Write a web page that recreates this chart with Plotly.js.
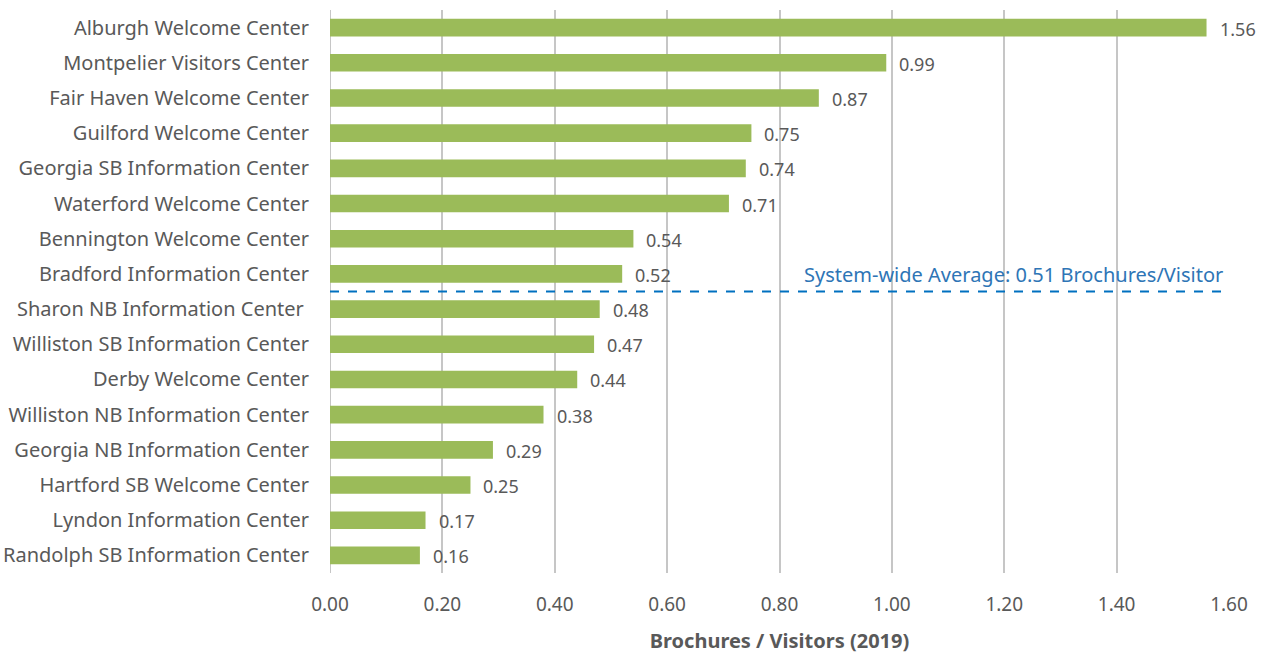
<!DOCTYPE html>
<html>
<head>
<meta charset="utf-8">
<script src="https://cdn.plot.ly/plotly-3.0.1.min.js"></script>
<style>
  html, body { margin: 0; padding: 0; background: #ffffff; }
  #chart { width: 1272px; height: 654px; }
</style>
</head>
<body>
<div id="chart"></div>
<script>
// Brochures distributed per visitor at each Vermont welcome / information center, 2019
const centers = [
  "Alburgh Welcome Center",
  "Montpelier Visitors Center",
  "Fair Haven Welcome Center",
  "Guilford Welcome Center",
  "Georgia SB Information Center",
  "Waterford Welcome Center",
  "Bennington Welcome Center",
  "Bradford Information Center",
  "Sharon NB Information Center\u00a0",
  "Williston SB Information Center",
  "Derby Welcome Center",
  "Williston NB Information Center",
  "Georgia NB Information Center",
  "Hartford SB Welcome Center",
  "Lyndon Information Center",
  "Randolph SB Information Center"
];
const ratios = [1.56, 0.99, 0.87, 0.75, 0.74, 0.71, 0.54, 0.52, 0.48, 0.47, 0.44, 0.38, 0.29, 0.25, 0.17, 0.16];
const systemAverage = 0.51;
const averageLabel = "System-wide Average: 0.51 Brochures/Visitor";
const xTicks = [0, 0.2, 0.4, 0.6, 0.8, 1.0, 1.2, 1.4, 1.6];

const FONT = "'Noto Sans', 'Open Sans', sans-serif";
const GREY_TEXT = "#595959";

// The average line sits between the last center above it and the first below it
const splitIndex = ratios.findIndex(v => v < systemAverage) - 0.5;

const trace = {
  type: "bar",
  orientation: "h",
  x: ratios,
  y: centers,
  marker: { color: "#9BBB59" },
  hoverinfo: "x+y"
};

const valueLabels = ratios.map((v, i) => ({
  x: v,
  y: centers[i],
  xref: "x",
  yref: "y",
  text: v.toFixed(2),
  showarrow: false,
  xanchor: "left",
  yanchor: "middle",
  xshift: 11,
  yshift: -1,
  font: { family: FONT, size: 18, color: GREY_TEXT }
}));

const layout = {
  width: 1272,
  height: 654,
  margin: { l: 330, r: 43, t: 10, b: 81 },
  paper_bgcolor: "#ffffff",
  plot_bgcolor: "#ffffff",
  showlegend: false,
  bargap: 0.5,
  font: { family: FONT, color: GREY_TEXT },
  xaxis: {
    range: [0, 1.6],
    tickvals: xTicks,
    ticktext: xTicks.map(t => t.toFixed(2)),
    showgrid: true,
    gridcolor: "#C6C6C6",
    gridwidth: 2,
    zeroline: false,
    showline: false,
    ticks: "",
    ticklabelstandoff: 18,
    tickfont: { family: FONT, size: 19, color: GREY_TEXT },
    title: {
      text: "<b>Brochures / Visitors (2019)</b>",
      font: { family: FONT, size: 20, color: GREY_TEXT },
      standoff: 20
    }
  },
  yaxis: {
    type: "category",
    autorange: "reversed",
    showgrid: false,
    zeroline: false,
    showline: false,
    ticks: "",
    ticklabelstandoff: 20,
    tickfont: { family: FONT, size: 20, color: GREY_TEXT }
  },
  shapes: [
    {
      type: "line",
      xref: "x",
      yref: "y",
      x0: 0,
      x1: 1.605,
      y0: splitIndex,
      y1: splitIndex,
      line: { color: "#0070C0", width: 2, dash: "dash" }
    }
  ],
  annotations: valueLabels.concat([
    {
      x: 1.6,
      y: splitIndex,
      xref: "x",
      yref: "y",
      text: averageLabel,
      showarrow: false,
      xanchor: "right",
      yanchor: "bottom",
      xshift: -4,
      yshift: 2,
      font: { family: FONT, size: 20, color: "#2E75B6" }
    }
  ])
};

// Vertical zero line drawn as a grid-coloured rule at x = 0
layout.shapes.push({
  type: "line",
  xref: "x",
  yref: "paper",
  x0: 0, x1: 0, y0: 0, y1: 1,
  layer: "below",
  line: { color: "#C6C6C6", width: 2 }
});

Plotly.newPlot("chart", [trace], layout, { displayModeBar: false, staticPlot: true });
</script>
</body>
</html>
